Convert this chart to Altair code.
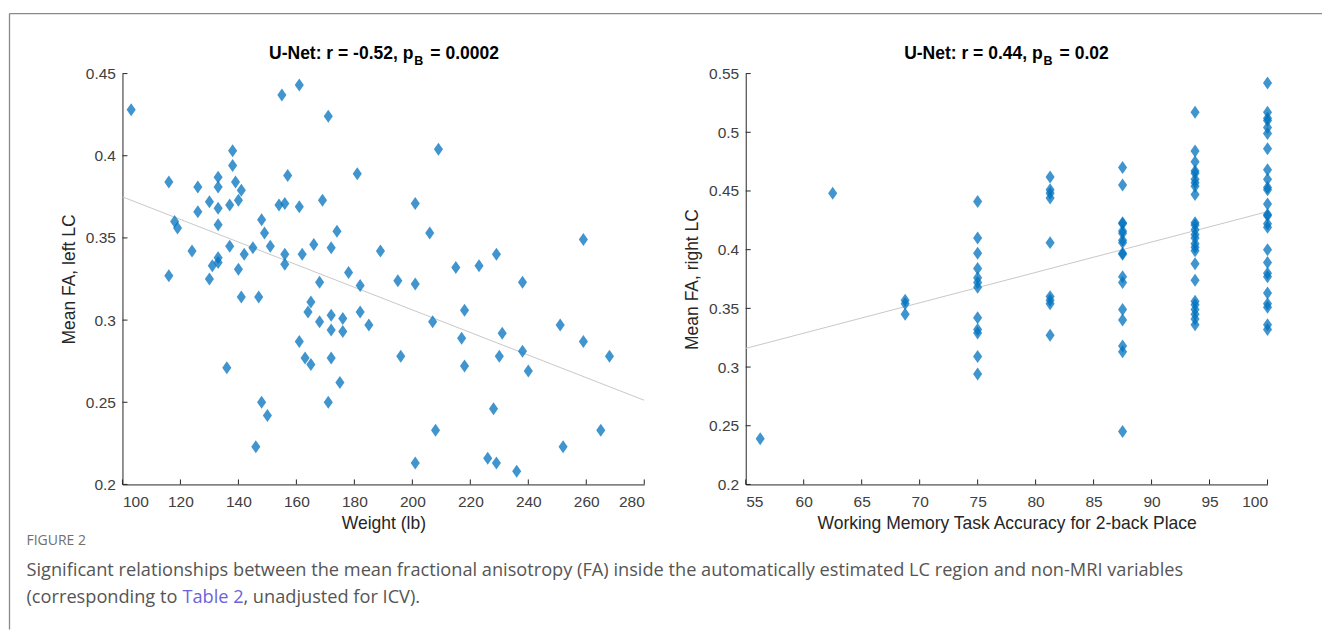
import altair as alt
import pandas as pd

# ---------------- data ----------------
weight_lb = [103, 161, 155, 171, 138, 138, 116, 126, 133, 133, 139, 141, 157, 181, 130, 137, 140, 133,
             154, 156, 161, 169, 126, 118, 119, 133, 148, 149, 174, 124, 137, 142, 145, 151, 156, 162,
             166, 172, 189, 133, 131, 133, 156, 140, 178, 116, 130, 168, 209, 201, 206, 259, 215, 223,
             229, 195, 201, 238, 185, 218, 207, 217, 231, 238, 230, 196, 218, 240, 251, 259, 268, 228,
             208, 265, 252, 201, 226, 229, 236, 182, 141, 147, 165, 164, 172, 176, 168, 182, 172, 176,
             161, 163, 165, 172, 175, 136, 148, 150, 171, 146]
fa_left = [0.428, 0.443, 0.437, 0.424, 0.403, 0.394, 0.384, 0.381, 0.387, 0.381, 0.384, 0.379, 0.388,
           0.389, 0.372, 0.370, 0.373, 0.368, 0.370, 0.371, 0.369, 0.373, 0.366, 0.360, 0.356, 0.358,
           0.361, 0.353, 0.354, 0.342, 0.345, 0.340, 0.344, 0.345, 0.340, 0.340, 0.346, 0.344, 0.342,
           0.338, 0.333, 0.335, 0.334, 0.331, 0.329, 0.327, 0.325, 0.323, 0.404, 0.371, 0.353, 0.349,
           0.332, 0.333, 0.340, 0.324, 0.322, 0.323, 0.297, 0.306, 0.299, 0.289, 0.292, 0.281, 0.278,
           0.278, 0.272, 0.269, 0.297, 0.287, 0.278, 0.246, 0.233, 0.233, 0.223, 0.213, 0.216, 0.213,
           0.208, 0.321, 0.314, 0.314, 0.311, 0.305, 0.303, 0.301, 0.299, 0.305, 0.294, 0.293, 0.287,
           0.277, 0.273, 0.277, 0.262, 0.271, 0.250, 0.242, 0.250, 0.223]

accuracy = [56.25, 62.5, 68.75, 68.75, 68.75,
            75, 75, 75, 75, 75, 75, 75, 75, 75, 75, 75, 75,
            81.25, 81.25, 81.25, 81.25, 81.25, 81.25, 81.25, 81.25, 81.25,
            87.5, 87.5, 87.5, 87.5, 87.5, 87.5, 87.5, 87.5, 87.5, 87.5, 87.5, 87.5, 87.5, 87.5, 87.5,
            87.5, 87.5,
            93.75, 93.75, 93.75, 93.75, 93.75, 93.75, 93.75, 93.75, 93.75, 93.75, 93.75, 93.75, 93.75,
            93.75, 93.75, 93.75, 93.75, 93.75, 93.75, 93.75, 93.75, 93.75, 93.75, 93.75, 93.75,
            100, 100, 100, 100, 100, 100, 100, 100, 100, 100, 100, 100, 100, 100, 100, 100, 100, 100,
            100, 100, 100, 100, 100, 100, 100]
fa_right = [0.239, 0.448, 0.357, 0.354, 0.345,
            0.441, 0.410, 0.397, 0.384, 0.376, 0.372, 0.368, 0.342, 0.332, 0.329, 0.309, 0.294,
            0.462, 0.451, 0.448, 0.444, 0.406, 0.360, 0.357, 0.354, 0.327,
            0.470, 0.455, 0.423, 0.422, 0.416, 0.414, 0.408, 0.406, 0.397, 0.396, 0.377, 0.372, 0.349,
            0.340, 0.318, 0.313, 0.245,
            0.517, 0.484, 0.475, 0.467, 0.465, 0.460, 0.457, 0.454, 0.447, 0.423, 0.421, 0.417, 0.413,
            0.410, 0.405, 0.402, 0.399, 0.388, 0.374, 0.356, 0.353, 0.349, 0.345, 0.341, 0.336,
            0.542, 0.517, 0.512, 0.510, 0.504, 0.499, 0.486, 0.468, 0.460, 0.453, 0.451, 0.439, 0.430,
            0.429, 0.422, 0.419, 0.400, 0.389, 0.380, 0.377, 0.363, 0.354, 0.351, 0.336, 0.332]

fit_left_x = [100, 280]
fit_left_y = [0.375, 0.2512]
fit_right_x = [55, 100]
fit_right_y = [0.3159, 0.4324]

left_xticks = [100, 120, 140, 160, 180, 200, 220, 240, 260, 280]
left_yticks = [0.2, 0.25, 0.3, 0.35, 0.4, 0.45]
right_xticks = [55, 60, 65, 70, 75, 80, 85, 90, 95, 100]
right_yticks = [0.2, 0.25, 0.3, 0.35, 0.4, 0.45, 0.5, 0.55]

left_title = ["U-Net: r = -0.52, p", "B", "= 0.0002"]
right_title = ["U-Net: r = 0.44, p", "B", "= 0.02"]
left_xlabel = "Weight (lb)"
left_ylabel = "Mean FA, left LC"
right_xlabel = "Working Memory Task Accuracy for 2-back Place"
right_ylabel = "Mean FA, right LC"

fig_label = "FIGURE 2"
caption_1 = ("Significant relationships between the mean fractional anisotropy (FA) inside the "
             "automatically estimated LC region and non-MRI variables")
caption_2 = ["(corresponding to", "Table 2", ", unadjusted for ICV)."]

# ---------------- styling ----------------
W, H = 522, 411
BLUE = "#0072BD"
AX = "#262626"
FONT = "Liberation Sans"
CAPFONT = "Open Sans"
CAPSIZE = 18.2
DIAMOND = "M0,-1L0.7,0L0,1L-0.7,0Z"


def txt(s, x, y, size, color="#000", weight="normal", align="left", font=FONT):
    return alt.Chart(pd.DataFrame({"t": [s]})).mark_text(
        align=align, baseline="middle", font=font, fontSize=size, fontWeight=weight,
        color=color
    ).encode(text="t:N", x=alt.value(x), y=alt.value(y))


def panel(xv, yv, fx, fy, xdom, ydom, xticks, yticks, xlabel, ylabel, title, tpos, extras):
    xs = alt.Scale(domain=xdom, nice=False, zero=False)
    ys = alt.Scale(domain=ydom, nice=False, zero=False)
    X = alt.X("x:Q", scale=xs, axis=alt.Axis(values=xticks, title=xlabel, format="~r",
                                              labelOverlap=False, labelPadding=10, titlePadding=5))
    Y = alt.Y("y:Q", scale=ys, axis=alt.Axis(values=yticks, title=ylabel, format="~r",
                                              labelOverlap=False, labelPadding=7, titlePadding=7))
    pts = alt.Chart(pd.DataFrame({"x": xv, "y": yv})).mark_point(
        shape=DIAMOND, filled=True, size=169, color=BLUE, opacity=0.75, strokeWidth=0
    ).encode(x=X, y=Y)
    fit = alt.Chart(pd.DataFrame({"x": fx, "y": fy})).mark_line(
        color="#c8c8c8", strokeWidth=1, clip=True
    ).encode(x=X, y=Y)
    xt = alt.Chart(pd.DataFrame({"x": xticks})).mark_rule(color=AX, strokeWidth=1).encode(
        x=X, y=alt.value(H), y2=alt.value(H - 5))
    yt = alt.Chart(pd.DataFrame({"y": yticks})).mark_rule(color=AX, strokeWidth=1).encode(
        y=Y, x=alt.value(0), x2=alt.value(5))
    tl = [
        txt(title[0], tpos[0], -20, 17.5, weight="bold", align="right"),
        txt(title[1], tpos[0] + 1, -13, 12.5, weight="bold"),
        txt(title[2], tpos[1], -20, 17.5, weight="bold"),
    ]
    return alt.layer(fit, pts, xt, yt, *tl, *extras).properties(width=W, height=H)


frame_top = alt.Chart(pd.DataFrame({"a": [0]})).mark_rule(color="#8a8a8a", strokeWidth=1.3).encode(
    x=alt.value(-113), x2=alt.value(1200), y=alt.value(-60))
frame_left = alt.Chart(pd.DataFrame({"a": [0]})).mark_rule(color="#8a8a8a", strokeWidth=1.3).encode(
    x=alt.value(-113), y=alt.value(-60), y2=alt.value(556))

extras = [
    frame_top, frame_left,
    txt(fig_label, -96, 468, 14, color="#707070", font=CAPFONT),
    txt(caption_1, -96, 498, CAPSIZE, color="#555555", font=CAPFONT),
    txt(caption_2[0], -96, 525, CAPSIZE, color="#555555", font=CAPFONT),
    txt(caption_2[1], 60, 525, CAPSIZE, color="#6c63dc", font=CAPFONT),
    txt(caption_2[2], 121, 525, CAPSIZE, color="#555555", font=CAPFONT),
]

left = panel(weight_lb, fa_left, fit_left_x, fit_left_y, [100, 280], [0.2, 0.45],
             left_xticks, left_yticks, left_xlabel, left_ylabel, left_title, (291, 308), extras)
right = panel(accuracy, fa_right, fit_right_x, fit_right_y, [55, 100], [0.2, 0.55],
              right_xticks, right_yticks, right_xlabel, right_ylabel, right_title, (297, 314), [])

chart = alt.hconcat(left, right, spacing=101.5, bounds="flush").properties(
    padding={"left": 0.5, "top": 4.5, "right": 0, "bottom": 0},
    background="white",
).configure_view(stroke=None).configure_axis(
    grid=False, ticks=False, tickSize=0, domainColor=AX, domainWidth=1,
    labelFont=FONT, labelFontSize=15.5, labelColor="#404040",
    titleFont=FONT, titleFontSize=17.5, titleFontWeight="normal", titleColor="#262626",
)

chart.save("out.html", embed_options={"renderer": "svg", "actions": False})
